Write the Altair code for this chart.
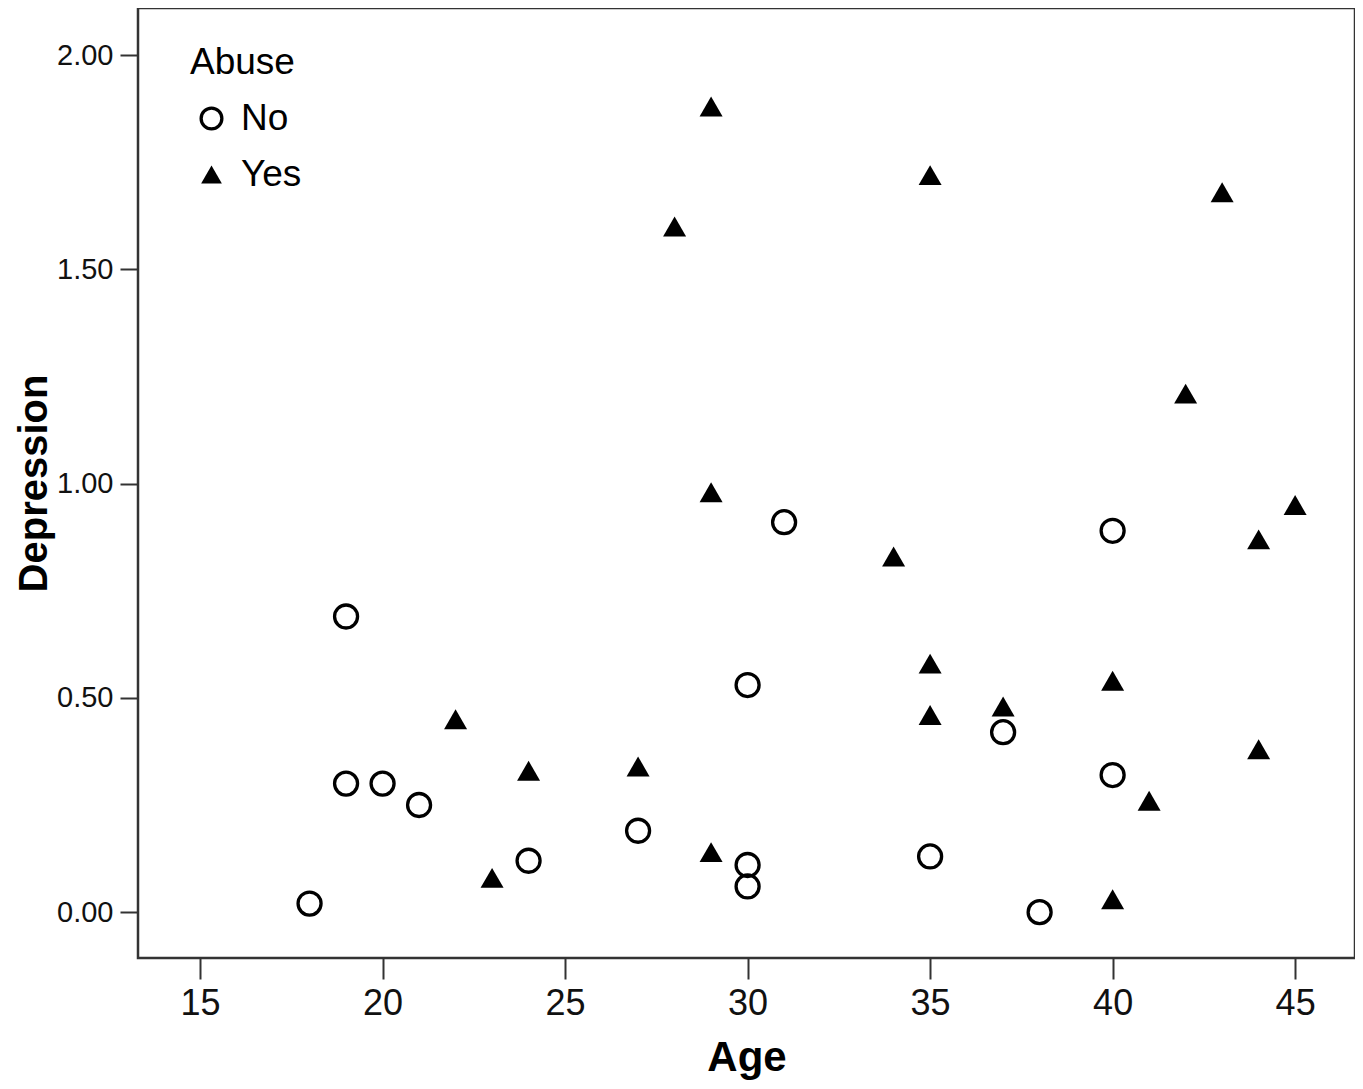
import altair as alt
import pandas as pd

# Abuse = No (open circles)
no_age = [18, 19, 19, 20, 21, 24, 27, 30, 30, 30, 31, 35, 37, 38, 40, 40]
no_dep = [0.02, 0.69, 0.30, 0.30, 0.25, 0.12, 0.19, 0.53, 0.11, 0.06, 0.91, 0.13, 0.42, 0.00, 0.89, 0.32]

# Abuse = Yes (filled triangles)
yes_age = [22, 23, 24, 27, 28, 29, 29, 29, 34, 35, 35, 35, 37, 40, 40, 41, 42, 43, 44, 44, 45]
yes_dep = [0.45, 0.08, 0.33, 0.34, 1.60, 1.88, 0.98, 0.14, 0.83, 1.72, 0.58, 0.46, 0.48, 0.54, 0.03, 0.26, 1.21, 1.68, 0.87, 0.38, 0.95]

groups = ["No", "Yes"]
x_ticks = [15, 20, 25, 30, 35, 40, 45]
y_ticks = [0.0, 0.5, 1.0, 1.5, 2.0]

df = pd.DataFrame({
    "Age": no_age + yes_age,
    "Depression": no_dep + yes_dep,
    "Abuse": ["No"] * len(no_age) + ["Yes"] * len(yes_age),
})

FONT = "Liberation Sans"
leg = alt.Legend(title="Abuse")

chart = alt.Chart(df).mark_point(filled=True, size=529, opacity=1).encode(
    x=alt.X("Age:Q",
            scale=alt.Scale(domain=[13.30, 46.64], nice=False, zero=False),
            axis=alt.Axis(values=x_ticks, format="d", title="Age",
                          labelFontSize=36, labelPadding=7, tickSize=21,
                          titleFontSize=42, titlePadding=16)),
    y=alt.Y("Depression:Q",
            scale=alt.Scale(domain=[-0.107, 2.110], nice=False, zero=False),
            axis=alt.Axis(values=y_ticks, format=".2f", title="Depression",
                          labelFontSize=29, labelPadding=7, tickSize=18,
                          titleFontSize=40, titlePadding=2)),
    shape=alt.Shape("Abuse:N", scale=alt.Scale(domain=groups, range=["circle", "triangle-up"]),
                    legend=leg),
    fill=alt.Fill("Abuse:N", scale=alt.Scale(domain=groups, range=["transparent", "black"]),
                  legend=leg),
    stroke=alt.Stroke("Abuse:N", scale=alt.Scale(domain=groups, range=["black", "black"]),
                      legend=leg),
    strokeWidth=alt.StrokeWidth("Abuse:N", scale=alt.Scale(domain=groups, range=[3.3, 0]),
                                legend=leg),
).properties(
    width=1217, height=950,
    autosize=alt.AutoSizeParams(type="none"),
    padding={"left": 130, "top": 0, "right": 0, "bottom": 122},
).configure(
    font=FONT,
).configure_view(
    stroke="#333", strokeWidth=2.5,
).configure_axis(
    grid=False, domain=False, tickColor="#333", tickWidth=2,
    labelColor="#111", labelFont=FONT, titleFont=FONT, titleColor="black",
    titleFontWeight="bold",
).configure_legend(
    orient="none", legendX=52, legendY=37, padding=0,
    titleFontSize=37, titleFontWeight="normal", titleColor="black", titlePadding=18,
    labelFontSize=37, labelColor="black", labelOffset=11,
    symbolSize=430, symbolStrokeColor="black", symbolOffset=3,
    rowPadding=18,
)

chart.save("out.html", embed_options={"renderer": "svg", "actions": False})
